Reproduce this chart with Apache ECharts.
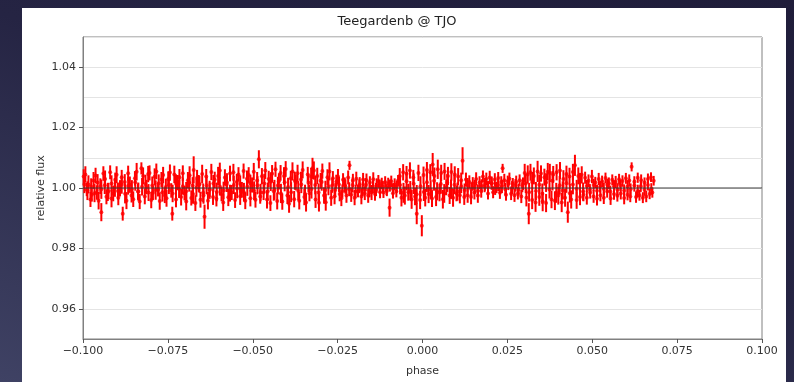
<!DOCTYPE html>
<html>
<head>
<meta charset="utf-8">
<script src="https://cdn.jsdelivr.net/npm/echarts@6/dist/echarts.min.js"></script>
<style>
html,body{margin:0;padding:0;width:794px;height:382px;overflow:hidden;
background:linear-gradient(200deg,#1f1d3a 0%,#252443 45%,#3f4264 100%);}
#chart{width:794px;height:382px;}
</style>
</head>
<body>
<div id="chart"></div>
<script>
const chartTitle = 'Teegardenb @ TJO';
const xTickValues = [-0.1, -0.075, -0.05, -0.025, 0, 0.025, 0.05, 0.075, 0.1];
const yTickValues = [0.96, 0.98, 1.00, 1.02, 1.04];
const referenceLevel = 1.0;

// first block of observations
const phase = [
-0.0998,-0.0993,-0.0989,-0.0984,-0.0978,-0.0974,-0.0969,-0.0963,-0.0959,-0.0954,
-0.0949,-0.0946,-0.0940,-0.0935,-0.0931,-0.0925,-0.0920,-0.0916,-0.0911,-0.0905,
-0.0901,-0.0896,-0.0891,-0.0886,-0.0883,-0.0877,-0.0872,-0.0867,-0.0862,-0.0857,
-0.0852,-0.0847,-0.0842,-0.0838,-0.0833,-0.0828,-0.0823,-0.0818,-0.0813,-0.0808,
-0.0804,-0.0799,-0.0794,-0.0789,-0.0784,-0.0779,-0.0774,-0.0769,-0.0764,-0.0759,
-0.0754,-0.0749,-0.0744,-0.0740,-0.0737,-0.0731,-0.0726,-0.0721,-0.0716,-0.0711,
-0.0706,-0.0701,-0.0696,-0.0691,-0.0686,-0.0681,-0.0677,-0.0674,-0.0669,-0.0664,
-0.0659,-0.0654,-0.0649,-0.0645,-0.0642,-0.0637,-0.0632,-0.0627,-0.0622,-0.0617,
-0.0612,-0.0607,-0.0602,-0.0597,-0.0592,-0.0587,-0.0582,-0.0577,-0.0572,-0.0567,
-0.0562,-0.0557,-0.0552,-0.0547,-0.0542,-0.0537,-0.0532,-0.0527,-0.0522,-0.0517,
-0.0512,-0.0507,-0.0502,-0.0497,-0.0492,-0.0487,-0.0482,-0.0478,-0.0473,-0.0468,
-0.0463,-0.0458,-0.0453,-0.0448,-0.0443,-0.0438,-0.0433,-0.0428,-0.0423,-0.0418,
-0.0413,-0.0408,-0.0403,-0.0398,-0.0393,-0.0388,-0.0383,-0.0378,-0.0373,-0.0368,
-0.0363,-0.0358,-0.0353,-0.0348,-0.0343,-0.0338,-0.0333,-0.0328,-0.0324,-0.0320,
-0.0315,-0.0310,-0.0305,-0.0300,-0.0295,-0.0290,-0.0285,-0.0280,-0.0274,-0.0269,
-0.0264,-0.0259,-0.0254,-0.0249,-0.0244,-0.0239,-0.0234,-0.0229,-0.0224,-0.0219,
-0.0215,-0.0210,-0.0205,-0.0200,-0.0195,-0.0190,-0.0185,-0.0180,-0.0175,-0.0170,
-0.0165,-0.0160,-0.0155,-0.0150,-0.0145,-0.0140,-0.0135,-0.0130,-0.0125,-0.0120,
-0.0115,-0.0110,-0.0105,-0.0101,-0.0097,-0.0092,-0.0087,-0.0082,-0.0077,-0.0072,
-0.0067,-0.0062,-0.0057,-0.0052,-0.0047,-0.0042,-0.0037,-0.0032,-0.0027,-0.0022,
-0.0017,-0.0012,-0.0007,-0.0002,0.0003,0.0008,0.0013,0.0018,0.0023,0.0028,
0.0030,0.0035,0.0040,0.0045,0.0050,0.0055,0.0060,0.0065,0.0070,0.0075,
0.0080,0.0085,0.0090,0.0095,0.0100,0.0105,0.0110,0.0114,0.0118,0.0123,
0.0128,0.0133,0.0138,0.0143,0.0148,0.0153,0.0158,0.0163,0.0168,0.0173,
0.0178,0.0183,0.0188,0.0193,0.0198,0.0203,0.0208,0.0213,0.0218,0.0223,
0.0228,0.0232,0.0236,0.0241,0.0246,0.0251,0.0256,0.0261,0.0266,0.0271,
0.0276,0.0281,0.0286,0.0291,0.0296,0.0301,0.0306,0.0310,0.0313,0.0318,
0.0323,0.0328,0.0333,0.0339,0.0344,0.0349,0.0354,0.0359,0.0364,0.0369,
0.0375,0.0380,0.0385,0.0390,0.0395,0.0400,0.0405,0.0410,0.0415,0.0420,
0.0424,0.0428,0.0433,0.0438,0.0443,0.0449,0.0454,0.0459,0.0464,0.0469,
0.0474,0.0479,0.0484,0.0489,0.0494,0.0499,0.0504,0.0509,0.0514,0.0519,
0.0524,0.0529,0.0534,0.0539,0.0544,0.0549,0.0554,0.0559,0.0564,0.0569,
0.0574,0.0579,0.0584,0.0589,0.0594,0.0599,0.0604,0.0609,0.0612,0.0616,
0.0624,0.0629,0.0634,0.0639,0.0644,0.0649,0.0654,0.0659,0.0664,0.0669,
0.0673,0.0677,0.0681
];

const flux = [
1.0038,1.0045,0.9995,1.0012,0.9962,0.9978,1.0025,1.0041,0.9985,0.9958,
1.0006,0.9920,1.0048,1.0030,0.9971,0.9990,1.0052,0.9965,0.9982,1.0027,
1.0044,0.9968,0.9999,1.0036,0.9915,1.0020,0.9958,1.0049,1.0011,0.9975,
0.9963,1.0032,1.0054,0.9988,0.9955,1.0065,1.0040,0.9972,1.0003,1.0046,
1.0050,0.9960,0.9984,1.0037,1.0055,0.9995,0.9957,1.0028,1.0043,0.9976,
0.9966,1.0030,1.0051,0.9992,0.9915,1.0045,0.9962,1.0018,1.0036,0.9970,
1.0049,0.9983,0.9955,1.0026,1.0042,0.9967,1.0008,1.0060,0.9950,1.0033,
1.0015,0.9961,1.0046,0.9975,0.9905,1.0038,0.9958,0.9994,1.0053,0.9970,
1.0027,0.9964,1.0040,1.0058,0.9980,0.9952,1.0035,1.0012,0.9969,1.0048,
0.9985,1.0052,0.9960,1.0020,1.0045,0.9973,0.9994,1.0056,0.9958,1.0031,
1.0043,0.9966,1.0010,1.0054,0.9961,1.0025,1.0095,0.9972,1.0039,0.9985,
1.0058,0.9962,1.0030,0.9950,1.0047,0.9989,1.0062,0.9957,1.0022,1.0050,
0.9955,1.0040,1.0063,0.9975,0.9948,1.0032,1.0055,0.9963,1.0018,1.0049,
0.9958,1.0028,1.0060,0.9970,0.9952,1.0045,0.9983,1.0038,1.0065,1.0058,
0.9962,1.0040,0.9951,1.0024,1.0056,0.9975,0.9953,1.0036,1.0055,0.9968,
1.0032,0.9972,1.0021,1.0038,0.9980,0.9966,1.0027,1.0010,0.9975,1.0035,
1.0075,0.9978,1.0025,0.9968,1.0031,0.9990,1.0012,0.9972,1.0028,0.9983,
1.0026,0.9975,1.0018,0.9985,1.0029,0.9980,1.0008,1.0022,0.9986,1.0015,
0.9985,1.0020,0.9990,1.0016,0.9935,1.0022,0.9983,1.0012,0.9988,1.0025,
1.0040,0.9968,1.0052,0.9975,1.0047,0.9986,1.0058,0.9962,1.0035,0.9972,
0.9915,1.0050,0.9960,0.9875,1.0043,0.9968,1.0060,0.9980,1.0052,0.9965,
1.0078,1.0040,0.9970,1.0062,0.9985,1.0050,0.9963,1.0055,1.0002,1.0040,
0.9975,1.0053,0.9968,1.0045,0.9982,1.0038,0.9976,1.0026,1.0090,0.9970,
1.0028,0.9976,1.0020,0.9970,1.0015,0.9985,1.0030,0.9975,1.0018,0.9990,
1.0038,1.0005,1.0030,0.9982,1.0035,1.0015,0.9986,1.0028,1.0002,1.0033,
0.9984,1.0020,1.0065,1.0026,0.9978,1.0022,1.0031,0.9981,1.0014,0.9976,
1.0020,0.9982,1.0026,0.9972,1.0014,1.0050,0.9968,1.0045,0.9915,1.0052,
0.9960,1.0040,0.9952,1.0055,0.9970,1.0048,0.9955,1.0036,0.9950,1.0054,
1.0050,0.9962,1.0045,0.9958,1.0052,0.9975,1.0058,0.9952,1.0030,0.9968,
1.0046,0.9920,1.0038,0.9962,1.0053,1.0075,0.9960,1.0040,0.9970,1.0044,
0.9978,1.0034,0.9968,1.0024,0.9985,1.0038,0.9972,1.0018,0.9964,1.0030,
0.9976,1.0022,0.9968,1.0033,0.9988,1.0016,0.9965,1.0027,0.9980,1.0020,
0.9974,1.0029,0.9982,1.0023,0.9967,1.0032,0.9978,1.0025,0.9972,1.0070,
1.0021,0.9970,1.0034,0.9976,1.0026,0.9968,1.0018,0.9972,1.0030,0.9980,
1.0036,0.9985,1.0024
];

const fluxErr = [
0.0024,0.0027,0.0022,0.0030,0.0025,0.0023,0.0028,0.0026,0.0024,0.0029,
0.0026,0.0030,0.0024,0.0028,0.0025,0.0027,0.0023,0.0029,0.0026,0.0024,
0.0028,0.0025,0.0027,0.0024,0.0023,0.0026,0.0028,0.0025,0.0027,0.0023,
0.0026,0.0024,0.0029,0.0027,0.0025,0.0020,0.0028,0.0026,0.0024,0.0027,
0.0025,0.0027,0.0024,0.0028,0.0026,0.0023,0.0029,0.0025,0.0027,0.0026,
0.0028,0.0025,0.0027,0.0024,0.0023,0.0029,0.0026,0.0025,0.0027,0.0028,
0.0026,0.0024,0.0029,0.0027,0.0030,0.0025,0.0028,0.0045,0.0026,0.0027,
0.0028,0.0026,0.0031,0.0027,0.0040,0.0025,0.0029,0.0024,0.0027,0.0026,
0.0027,0.0025,0.0030,0.0026,0.0024,0.0028,0.0027,0.0025,0.0029,0.0026,
0.0025,0.0028,0.0026,0.0027,0.0024,0.0029,0.0026,0.0025,0.0028,0.0027,
0.0026,0.0027,0.0025,0.0029,0.0026,0.0028,0.0030,0.0024,0.0027,0.0025,
0.0028,0.0030,0.0027,0.0026,0.0029,0.0031,0.0025,0.0028,0.0027,0.0026,
0.0027,0.0029,0.0026,0.0028,0.0030,0.0025,0.0030,0.0027,0.0026,0.0028,
0.0029,0.0026,0.0028,0.0027,0.0030,0.0025,0.0027,0.0029,0.0035,0.0030,
0.0028,0.0027,0.0029,0.0026,0.0025,0.0027,0.0028,0.0026,0.0030,0.0027,
0.0024,0.0026,0.0023,0.0025,0.0024,0.0026,0.0022,0.0025,0.0024,0.0023,
0.0015,0.0024,0.0022,0.0025,0.0023,0.0021,0.0024,0.0026,0.0022,0.0023,
0.0022,0.0024,0.0021,0.0025,0.0023,0.0022,0.0024,0.0021,0.0020,0.0019,
0.0018,0.0019,0.0017,0.0018,0.0030,0.0019,0.0018,0.0020,0.0019,0.0018,
0.0026,0.0029,0.0027,0.0030,0.0026,0.0028,0.0027,0.0031,0.0025,0.0029,
0.0035,0.0027,0.0030,0.0035,0.0028,0.0029,0.0026,0.0030,0.0027,0.0028,
0.0038,0.0028,0.0030,0.0032,0.0029,0.0027,0.0031,0.0028,0.0026,0.0030,
0.0028,0.0029,0.0030,0.0027,0.0026,0.0028,0.0027,0.0025,0.0045,0.0026,
0.0023,0.0025,0.0022,0.0024,0.0021,0.0023,0.0022,0.0024,0.0021,0.0022,
0.0020,0.0019,0.0021,0.0020,0.0022,0.0019,0.0020,0.0021,0.0019,0.0020,
0.0020,0.0019,0.0015,0.0021,0.0020,0.0019,0.0020,0.0021,0.0019,0.0022,
0.0021,0.0020,0.0019,0.0022,0.0021,0.0030,0.0029,0.0030,0.0035,0.0028,
0.0030,0.0028,0.0031,0.0035,0.0029,0.0027,0.0032,0.0028,0.0030,0.0029,
0.0030,0.0029,0.0028,0.0031,0.0027,0.0030,0.0028,0.0032,0.0029,0.0030,
0.0028,0.0035,0.0029,0.0030,0.0027,0.0035,0.0029,0.0028,0.0027,0.0028,
0.0022,0.0020,0.0023,0.0021,0.0020,0.0022,0.0021,0.0019,0.0022,0.0020,
0.0020,0.0019,0.0021,0.0018,0.0020,0.0019,0.0021,0.0018,0.0019,0.0020,
0.0019,0.0018,0.0020,0.0019,0.0021,0.0018,0.0019,0.0020,0.0019,0.0015,
0.0018,0.0019,0.0017,0.0018,0.0019,0.0018,0.0017,0.0019,0.0018,0.0017,
0.0016,0.0017,0.0016
];

// second, interleaved block of observations
const phaseB = [
-0.0996,-0.0987,-0.0976,-0.0966,-0.0957,-0.0946,-0.0936,-0.0927,-0.0916,-0.0906,
-0.0897,-0.0886,-0.0876,-0.0867,-0.0856,-0.0846,-0.0837,-0.0826,-0.0816,-0.0807,
-0.0796,-0.0786,-0.0777,-0.0766,-0.0756,-0.0747,-0.0736,-0.0726,-0.0717,-0.0706,
-0.0696,-0.0687,-0.0676,-0.0666,-0.0657,-0.0646,-0.0636,-0.0627,-0.0616,-0.0606,
-0.0597,-0.0586,-0.0576,-0.0567,-0.0556,-0.0546,-0.0537,-0.0526,-0.0516,-0.0507,
-0.0496,-0.0486,-0.0477,
-0.0466,-0.0456,-0.0447,-0.0436,-0.0426,-0.0417,-0.0406,-0.0396,-0.0387,-0.0376,
-0.0366,-0.0357,-0.0346,-0.0336,-0.0327,-0.0316,-0.0306,-0.0297,-0.0286,-0.0277,
-0.0266,-0.0257,-0.0246,-0.0236,-0.0227,-0.0216,-0.0206,-0.0197,-0.0186,-0.0176,
-0.0167,-0.0156,-0.0146,-0.0137,-0.0126,
-0.0117,-0.0106,-0.0096,-0.0087,-0.0076,
-0.0066,-0.0056,-0.0047,-0.0036,-0.0026,-0.0017,-0.0006,0.0004,0.0013,0.0024,
0.0034,0.0043,0.0054,0.0064,0.0073,0.0084,0.0094,0.0103,
0.0114,0.0124,0.0133,0.0144,0.0154,0.0163,0.0174,
0.0184,0.0193,0.0204,0.0214,0.0223,0.0234,0.0244,0.0253,0.0264,0.0274,0.0283,0.0294,
0.0304,0.0314,0.0323,0.0334,0.0344,0.0353,0.0364,0.0374,0.0383,0.0394,
0.0404,0.0413,0.0424,0.0434,0.0443,0.0454,0.0464,0.0473,
0.0484,0.0493,0.0504,0.0514,0.0523,0.0534,0.0544,0.0553,0.0564,0.0574,
0.0583,0.0594,0.0604,0.0613,0.0624,0.0634,0.0643,0.0654,0.0664,0.0674
];

const fluxB = [
1.0012,0.9991,1.0005,0.9983,1.0018,0.9996,1.0009,0.9987,1.0015,1.0002,
0.9990,1.0011,0.9981,1.0007,0.9995,1.0019,0.9988,1.0004,1.0013,0.9985,
1.0008,0.9993,1.0016,0.9986,1.0003,1.0010,0.9982,1.0014,0.9997,1.0006,
0.9989,1.0017,0.9980,1.0001,1.0012,0.9984,1.0008,0.9994,1.0015,0.9987,
1.0005,0.9992,1.0018,0.9983,1.0010,0.9998,1.0013,0.9986,1.0004,1.0016,
0.9991,1.0009,0.9985,
1.0015,0.9988,1.0021,0.9994,1.0008,0.9982,1.0019,1.0003,0.9986,1.0024,
0.9991,1.0012,0.9980,1.0017,0.9997,1.0010,0.9985,1.0020,0.9993,1.0006,
1.0008,0.9993,1.0012,0.9990,1.0005,0.9996,1.0010,0.9988,1.0006,0.9997,
1.0011,0.9992,1.0004,0.9995,1.0007,
1.0004,0.9995,1.0008,0.9997,1.0006,
1.0010,0.9984,1.0022,0.9991,1.0014,0.9979,1.0006,0.9987,1.0019,0.9995,
1.0024,0.9989,1.0013,0.9982,1.0017,0.9996,1.0011,0.9988,
1.0006,0.9993,1.0009,0.9996,1.0004,0.9991,1.0007,
1.0012,1.0003,1.0016,0.9998,1.0010,1.0005,0.9996,1.0013,1.0002,1.0009,0.9994,1.0007,
1.0015,0.9986,1.0020,0.9990,1.0011,0.9981,1.0018,0.9995,1.0024,0.9984,
1.0009,0.9992,1.0016,0.9983,1.0012,0.9997,1.0019,0.9988,
1.0007,0.9994,1.0010,0.9991,1.0004,0.9997,1.0011,0.9989,1.0006,0.9995,
1.0009,0.9992,1.0005,0.9996,1.0008,0.9990,1.0006,0.9994,1.0010,0.9997
];

const fluxErrB = [
0.0029,0.0031,0.0027,0.0030,0.0028,0.0032,0.0029,0.0030,0.0027,0.0031,
0.0028,0.0030,0.0032,0.0029,0.0031,0.0028,0.0030,0.0029,0.0031,0.0028,
0.0030,0.0032,0.0029,0.0031,0.0028,0.0030,0.0029,0.0031,0.0030,0.0028,
0.0031,0.0029,0.0032,0.0030,0.0028,0.0031,0.0029,0.0030,0.0028,0.0031,
0.0030,0.0029,0.0031,0.0028,0.0030,0.0032,0.0029,0.0031,0.0030,0.0028,
0.0031,0.0030,0.0029,
0.0032,0.0030,0.0031,0.0033,0.0029,0.0032,0.0030,0.0031,0.0033,0.0030,
0.0032,0.0029,0.0031,0.0030,0.0032,0.0031,0.0030,0.0029,0.0031,0.0030,
0.0024,0.0023,0.0025,0.0022,0.0024,0.0023,0.0025,0.0022,0.0023,0.0024,
0.0022,0.0023,0.0021,0.0022,0.0021,
0.0019,0.0018,0.0020,0.0019,0.0018,
0.0031,0.0033,0.0030,0.0032,0.0034,0.0031,0.0033,0.0030,0.0032,0.0031,
0.0033,0.0030,0.0032,0.0031,0.0030,0.0032,0.0031,0.0030,
0.0023,0.0022,0.0024,0.0022,0.0023,0.0021,0.0022,
0.0021,0.0020,0.0022,0.0021,0.0020,0.0022,0.0021,0.0020,0.0022,0.0021,0.0020,0.0021,
0.0032,0.0031,0.0033,0.0030,0.0032,0.0034,0.0031,0.0030,0.0032,0.0033,
0.0031,0.0030,0.0032,0.0031,0.0033,0.0030,0.0031,0.0030,
0.0020,0.0019,0.0021,0.0020,0.0019,0.0021,0.0020,0.0019,0.0020,0.0021,
0.0019,0.0020,0.0021,0.0019,0.0020,0.0021,0.0019,0.0020,0.0018,0.0019
];

const points = phaseB.map((p, i) => [p, fluxB[i], fluxErrB[i]])
  .concat(phase.map((p, i) => [p, flux[i], fluxErr[i]]));

const FONT = "'DejaVu Sans', sans-serif";
const RED = '#ff0000';
const chart = echarts.init(document.getElementById('chart'), null, {renderer: 'canvas'});

function fmtX(v) {
  const s = Math.abs(v).toFixed(3);
  return (v < -1e-9 ? '\u2212' : '') + s;
}

chart.setOption({
  backgroundColor: 'transparent',
  animation: false,
  graphic: [{
    type: 'rect', z: -10, silent: true,
    shape: {x: 22, y: 8, width: 764, height: 374},
    style: {fill: '#ffffff'}
  }],
  title: {
    text: chartTitle, left: 'center', top: 10,
    textStyle: {fontFamily: FONT, fontSize: 13, fontWeight: 'normal', color: '#222'}
  },
  grid: {left: 83, right: 32, top: 37, bottom: 37, show: true, borderColor: '#808080', borderWidth: 1, backgroundColor: 'transparent'},
  xAxis: {
    type: 'value', min: -0.1, max: 0.1, interval: 0.025,
    name: 'phase', nameLocation: 'middle', nameGap: 27,
    nameTextStyle: {fontFamily: FONT, fontSize: 11, color: '#333'},
    axisLine: {show: true, onZero: false, lineStyle: {color: '#808080', width: 1}},
    axisTick: {show: true, length: 4, lineStyle: {color: '#555'}},
    axisLabel: {fontFamily: FONT, fontSize: 11, color: '#333', margin: 7, formatter: fmtX, customValues: xTickValues},
    splitLine: {show: false}
  },
  yAxis: [{
    type: 'value', min: 0.95, max: 1.05, interval: 0.01,
    name: 'relative flux', nameLocation: 'middle', nameGap: 36, nameMoveOverlap: false,
    nameTextStyle: {fontFamily: FONT, fontSize: 11, color: '#333'},
    axisLine: {show: true, onZero: false, lineStyle: {color: '#808080', width: 1}},
    axisTick: {show: true, length: 4, lineStyle: {color: '#555'}, customValues: yTickValues},
    axisLabel: {fontFamily: FONT, fontSize: 11, color: '#333', margin: 7,
      customValues: yTickValues,
      formatter: v => v.toFixed(2)},
    splitLine: {show: false}
  }, {
    type: 'value', min: 0.95, max: 1.05, interval: 0.01, position: 'left',
    axisLine: {show: false}, axisTick: {show: false}, axisLabel: {show: false},
    splitLine: {show: true, lineStyle: {color: '#e4e4e4', width: 1}}
  }],
  series: [
    {
      type: 'custom', name: 'err', z: 2,
      data: points,
      renderItem: function (params, api) {
        const x = api.value(0), y = api.value(1), e = api.value(2);
        const top = api.coord([x, y + e]);
        const bot = api.coord([x, y - e]);
        return {type: 'line', shape: {x1: top[0], y1: top[1], x2: bot[0], y2: bot[1]},
          style: {stroke: RED, lineWidth: 2}};
      },
      encode: {x: 0, y: [1]}
    },
    {
      type: 'scatter', name: 'flux', z: 3,
      data: points.map(d => [d[0], d[1]]),
      symbol: 'circle', symbolSize: 4,
      itemStyle: {color: RED}
    },
    {
      type: 'line', name: 'ref', z: 5,
      data: [[-0.1, referenceLevel], [0.1, referenceLevel]],
      symbol: 'none',
      lineStyle: {color: '#3a3a3a', width: 1}
    }
  ]
});
</script>
</body>
</html>
